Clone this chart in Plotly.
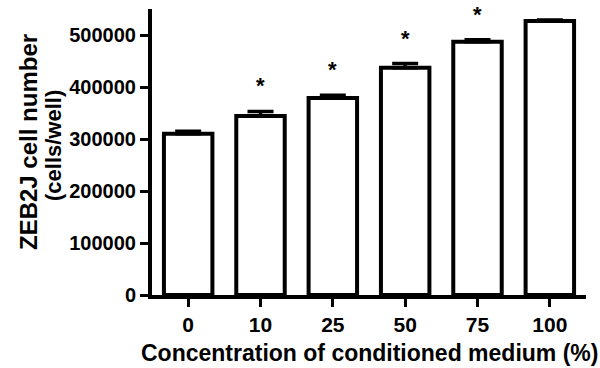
import plotly.graph_objects as go

categories = ["0", "10", "25", "50", "75", "100"]
cell_number = [310000, 344000, 379000, 437000, 487000, 527000]
sem = [5000, 9000, 5000, 8000, 4000, 2000]
significance = ["", "*", "*", "*", "*", ""]
y_ticks = [0, 100000, 200000, 300000, 400000, 500000]
y_tick_labels = ["0", "100000", "200000", "300000", "400000", "500000"]
y_title_lines = ["ZEB2J cell number", "(cells/well)"]
x_title = "Concentration of conditioned medium (%)"

FONT = "Liberation Sans, Arial, sans-serif"

fig = go.Figure()
fig.add_trace(go.Bar(
    x=categories,
    y=cell_number,
    width=0.67,
    marker=dict(color="white", line=dict(color="black", width=4)),
    error_y=dict(type="data", symmetric=False, array=sem,
                 arrayminus=[0] * len(sem), color="black",
                 thickness=3.5, width=13),
    showlegend=False,
))

for i, (v, e, s) in enumerate(zip(cell_number, sem, significance)):
    if not s:
        continue
    fig.add_annotation(
        x=i, y=v + e, xref="x", yref="y", text=s, showarrow=False,
        yanchor="bottom", yshift=11,
        font=dict(family=FONT, size=22, color="black", weight=700),
    )

# y-axis title (two lines)
fig.add_annotation(x=0, xref="paper", xshift=-124, y=0.5, yref="paper", yshift=10,
                   text=y_title_lines[0], textangle=-90, showarrow=False,
                   xanchor="center", yanchor="middle",
                   font=dict(family=FONT, size=24, color="black", weight=700))
fig.add_annotation(x=0, xref="paper", xshift=-99, y=0.5, yref="paper", yshift=6,
                   text=y_title_lines[1], textangle=-90, showarrow=False,
                   xanchor="center", yanchor="middle",
                   font=dict(family=FONT, size=22, color="black", weight=700))
# x-axis title
fig.add_annotation(x=0.5, xref="paper", y=0, yref="paper", yshift=-58,
                   text=x_title, showarrow=False,
                   xanchor="center", yanchor="middle",
                   font=dict(family=FONT, size=23, color="black", weight=700))

fig.update_layout(
    width=600, height=368,
    margin=dict(l=152, r=14, t=9, b=73),
    paper_bgcolor="white", plot_bgcolor="white",
    font=dict(family=FONT, size=20, color="black", weight=700),
    xaxis=dict(
        type="category",
        range=[-0.5, 5.5],
        showline=True, linecolor="black", linewidth=4,
        ticks="outside", ticklen=8, tickwidth=3, tickcolor="black",
        showgrid=False, zeroline=False,
        tickfont=dict(family=FONT, size=21, weight=700),
    ),
    yaxis=dict(
        range=[0, 550000],
        showline=True, linecolor="black", linewidth=4,
        ticks="outside", ticklen=8, tickwidth=3, tickcolor="black",
        tickvals=y_ticks, ticktext=y_tick_labels,
        showgrid=False, zeroline=False,
        tickfont=dict(family=FONT, size=20, weight=700),
    ),
)

fig.write_html("out.html")
